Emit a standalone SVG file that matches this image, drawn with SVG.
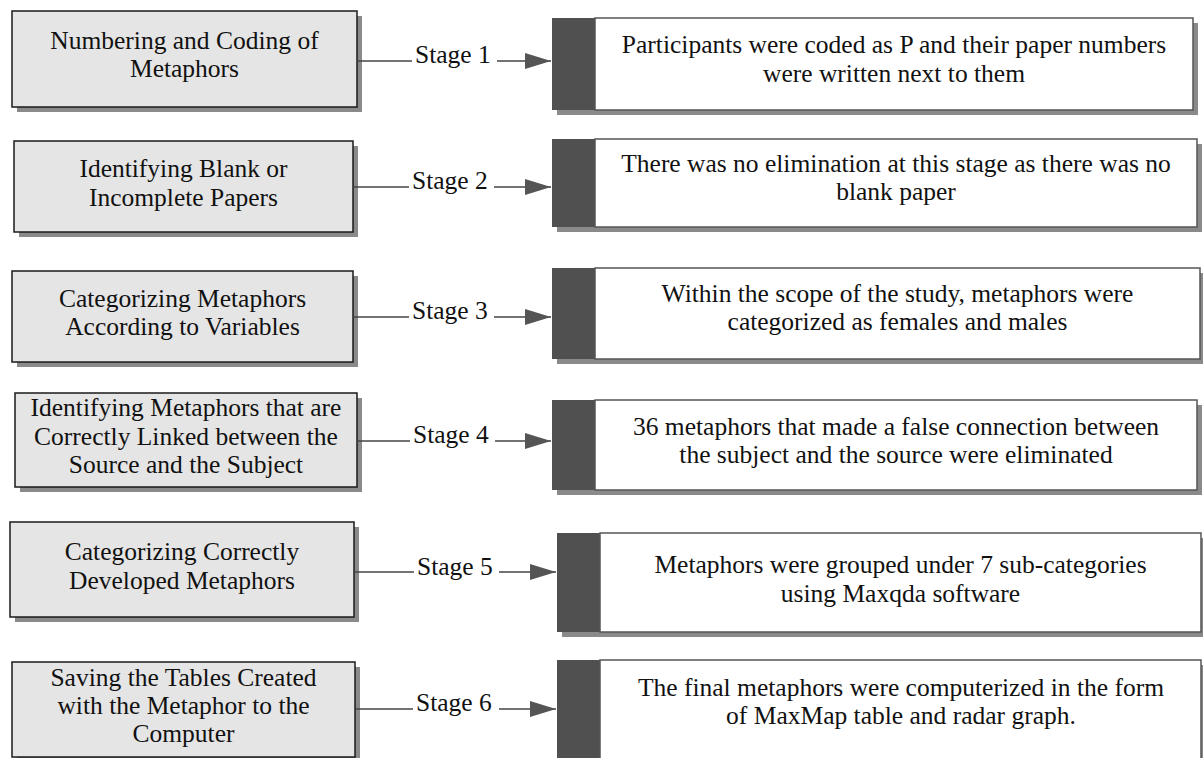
<svg xmlns="http://www.w3.org/2000/svg" width="1203" height="758" viewBox="0 0 1203 758">
  <defs>
    <style>
      .lbox{fill:#e5e5e5;stroke:#1a1a1a;stroke-width:1.5}
      .shadow{fill:#8a8a8a}
      .rbox{fill:#ffffff;stroke:#555555;stroke-width:1.5}
      .bar{fill:#505050}
      text{font-family:'Liberation Serif','Times New Roman',Tinos,'DejaVu Serif',serif;font-size:25.5px;fill:#111111}
      .t{text-anchor:middle}
      .stage{text-anchor:start}
      .conn{stroke:#444444;stroke-width:1.3;fill:none}
    </style>
    <marker id="arrow" markerUnits="userSpaceOnUse" markerWidth="27" markerHeight="17" refX="26" refY="8" orient="auto">
      <path d="M0,0 L26,8 L0,16 Z" fill="#555555"/>
    </marker>
  </defs>
  <rect width="1203" height="758" fill="#ffffff"/>

  <g font-family="Liberation Serif, Times New Roman, serif">
  <!-- Stage 1 -->
  <g id="step1">
    <rect class="shadow" x="17" y="16" width="345" height="96"/>
    <rect class="lbox" x="12" y="11" width="345" height="96"/>
    <text class="t" x="184.5" y="49">Numbering and Coding of</text>
    <text class="t" x="184.5" y="77">Metaphors</text>
  </g>
  <g id="result1">
    <rect class="shadow" x="557" y="23" width="641" height="92"/>
    <rect class="bar" x="552" y="18" width="43" height="92"/>
    <rect class="rbox" x="595" y="18" width="598" height="92"/>
    <text class="t" x="894" y="53">Participants were coded as P and their paper numbers</text>
    <text class="t" x="894" y="82">were written next to them</text>
  </g>

  <!-- Stage 2 -->
  <g id="step2">
    <rect class="shadow" x="19" y="146" width="339" height="91"/>
    <rect class="lbox" x="14" y="141" width="339" height="91"/>
    <text class="t" x="183.5" y="177">Identifying Blank or</text>
    <text class="t" x="183.5" y="206">Incomplete Papers</text>
  </g>
  <g id="result2">
    <rect class="shadow" x="557" y="144" width="645" height="88"/>
    <rect class="bar" x="552" y="139" width="43" height="88"/>
    <rect class="rbox" x="595" y="139" width="602" height="88"/>
    <text class="t" x="896" y="172">There was no elimination at this stage as there was no</text>
    <text class="t" x="896" y="200">blank paper</text>
  </g>

  <!-- Stage 3 -->
  <g id="step3">
    <rect class="shadow" x="17" y="276" width="341" height="91"/>
    <rect class="lbox" x="12" y="271" width="341" height="91"/>
    <text class="t" x="182.5" y="307">Categorizing Metaphors</text>
    <text class="t" x="182.5" y="335">According to Variables</text>
  </g>
  <g id="result3">
    <rect class="shadow" x="557" y="273" width="648" height="91"/>
    <rect class="bar" x="552" y="268" width="43" height="91"/>
    <rect class="rbox" x="595" y="268" width="605" height="91"/>
    <text class="t" x="897.5" y="302">Within the scope of the study, metaphors were</text>
    <text class="t" x="897.5" y="330">categorized as females and males</text>
  </g>

  <!-- Stage 4 -->
  <g id="step4">
    <rect class="shadow" x="20" y="398" width="342" height="94"/>
    <rect class="lbox" x="15" y="393" width="342" height="94"/>
    <text class="t" x="186" y="416">Identifying Metaphors that are</text>
    <text class="t" x="186" y="445">Correctly Linked between the</text>
    <text class="t" x="186" y="473">Source and the Subject</text>
  </g>
  <g id="result4">
    <rect class="shadow" x="557" y="405" width="645" height="90"/>
    <rect class="bar" x="552" y="400" width="43" height="90"/>
    <rect class="rbox" x="595" y="400" width="602" height="90"/>
    <text class="t" x="896" y="435">36 metaphors that made a false connection between</text>
    <text class="t" x="896" y="463">the subject and the source were eliminated</text>
  </g>

  <!-- Stage 5 -->
  <g id="step5">
    <rect class="shadow" x="15" y="527" width="344" height="95"/>
    <rect class="lbox" x="10" y="522" width="344" height="95"/>
    <text class="t" x="182" y="560">Categorizing Correctly</text>
    <text class="t" x="182" y="589">Developed Metaphors</text>
  </g>
  <g id="result5">
    <rect class="shadow" x="562" y="538" width="645" height="99"/>
    <rect class="bar" x="557" y="533" width="43" height="99"/>
    <rect class="rbox" x="600" y="533" width="601" height="99"/>
    <text class="t" x="900.5" y="573">Metaphors were grouped under 7 sub-categories</text>
    <text class="t" x="900.5" y="602">using Maxqda software</text>
  </g>

  <!-- Stage 6 -->
  <g id="step6">
    <rect class="shadow" x="17" y="667" width="343" height="95"/>
    <rect class="lbox" x="12" y="662" width="343" height="95"/>
    <text class="t" x="183.5" y="686">Saving the Tables Created</text>
    <text class="t" x="183.5" y="714">with the Metaphor to the</text>
    <text class="t" x="183.5" y="742">Computer</text>
  </g>
  <g id="result6">
    <rect class="shadow" x="562" y="665" width="645" height="110"/>
    <rect class="bar" x="557" y="660" width="43" height="110"/>
    <rect class="rbox" x="600" y="660" width="601" height="110"/>
    <text class="t" x="901" y="696">The final metaphors were computerized in the form</text>
    <text class="t" x="901" y="724">of MaxMap table and radar graph.</text>
  </g>

  <!-- Stage connectors: plain lead-in, label, arrowed lead-out -->
  <g id="connectors">
    <line class="conn" x1="357" y1="61" x2="412" y2="61"/>
    <text class="stage" x="415" y="63">Stage 1</text>
    <line class="conn" x1="497" y1="61" x2="551" y2="61" marker-end="url(#arrow)"/>

    <line class="conn" x1="353" y1="187" x2="409" y2="187"/>
    <text class="stage" x="412" y="189">Stage 2</text>
    <line class="conn" x1="494" y1="187" x2="551" y2="187" marker-end="url(#arrow)"/>

    <line class="conn" x1="353" y1="317" x2="409" y2="317"/>
    <text class="stage" x="412" y="319">Stage 3</text>
    <line class="conn" x1="494" y1="317" x2="551" y2="317" marker-end="url(#arrow)"/>

    <line class="conn" x1="357" y1="441" x2="410" y2="441"/>
    <text class="stage" x="413" y="443">Stage 4</text>
    <line class="conn" x1="495" y1="441" x2="551" y2="441" marker-end="url(#arrow)"/>

    <line class="conn" x1="354" y1="572" x2="414" y2="572"/>
    <text class="stage" x="417" y="575">Stage 5</text>
    <line class="conn" x1="499" y1="572" x2="556" y2="572" marker-end="url(#arrow)"/>

    <line class="conn" x1="355" y1="709" x2="413" y2="709"/>
    <text class="stage" x="416" y="711">Stage 6</text>
    <line class="conn" x1="499" y1="709" x2="556" y2="709" marker-end="url(#arrow)"/>
  </g>
  </g>
</svg>
